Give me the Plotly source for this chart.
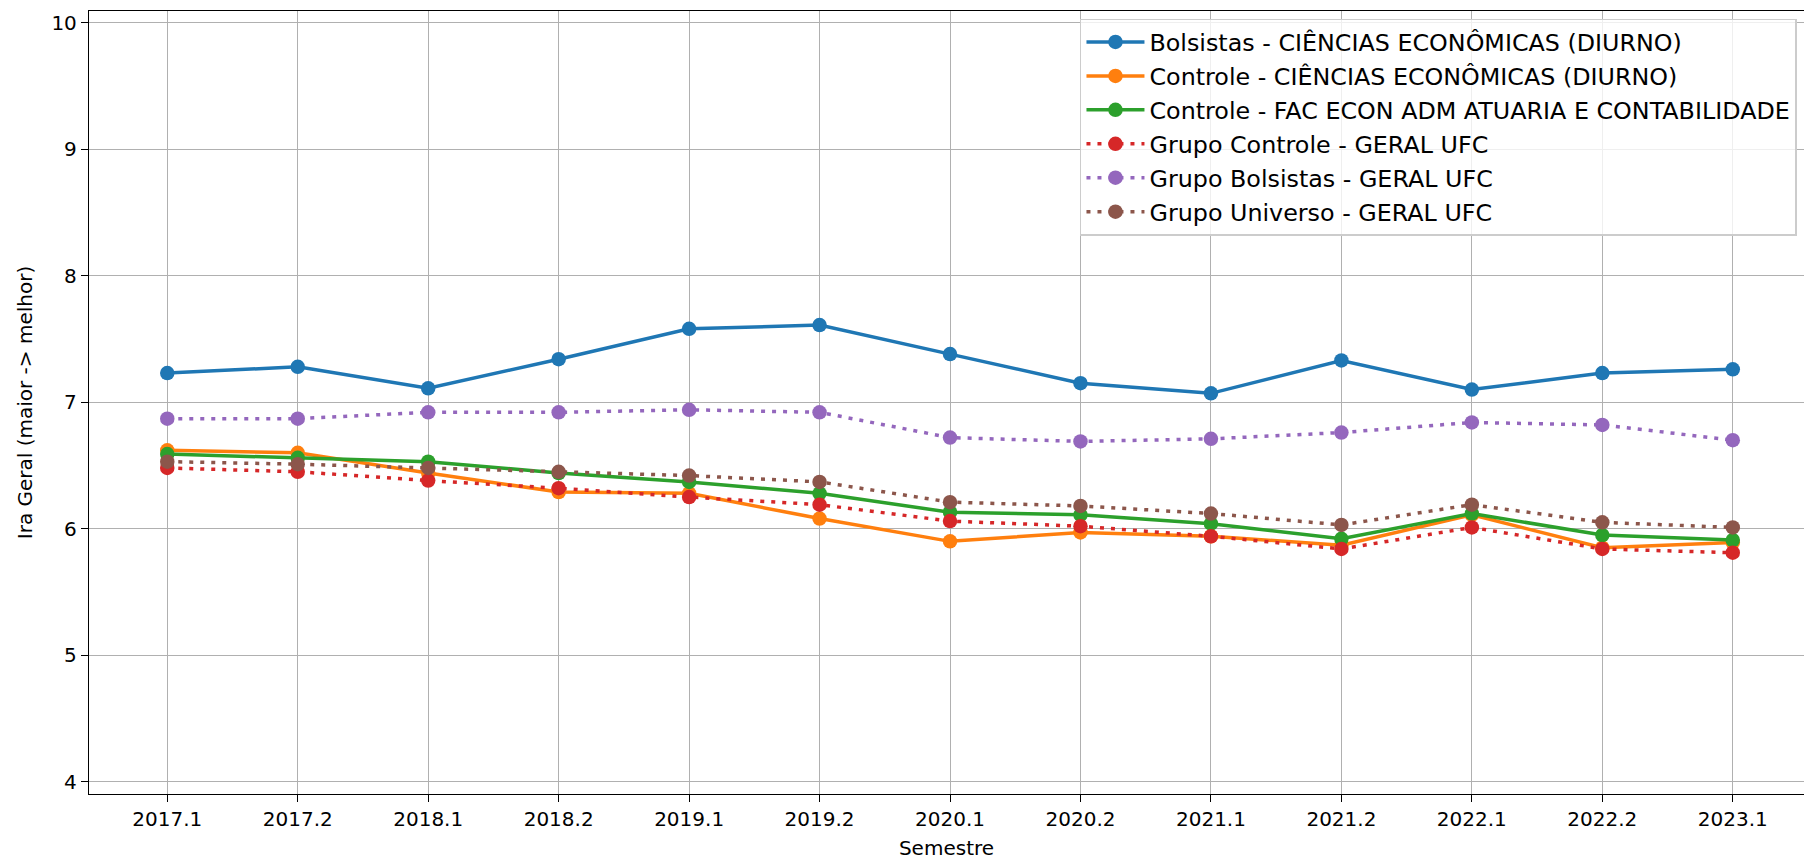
import plotly.graph_objects as go

semestres = ["2017.1", "2017.2", "2018.1", "2018.2", "2019.1", "2019.2", "2020.1",
             "2020.2", "2021.1", "2021.2", "2022.1", "2022.2", "2023.1"]

bolsistas_ce = [7.23, 7.28, 7.11, 7.34, 7.58, 7.61, 7.38, 7.15, 7.07, 7.33, 7.10, 7.23, 7.26]
controle_ce = [6.62, 6.60, 6.44, 6.29, 6.28, 6.08, 5.90, 5.97, 5.94, 5.87, 6.11, 5.85, 5.89]
controle_feaac = [6.59, 6.56, 6.53, 6.44, 6.37, 6.28, 6.13, 6.11, 6.04, 5.92, 6.12, 5.95, 5.91]
grupo_controle_ufc = [6.48, 6.45, 6.38, 6.32, 6.25, 6.19, 6.06, 6.02, 5.94, 5.84, 6.01, 5.84, 5.81]
grupo_bolsistas_ufc = [6.87, 6.87, 6.92, 6.92, 6.94, 6.92, 6.72, 6.69, 6.71, 6.76, 6.84, 6.82, 6.70]
grupo_universo_ufc = [6.53, 6.51, 6.48, 6.45, 6.42, 6.37, 6.21, 6.18, 6.12, 6.03, 6.19, 6.05, 6.01]

series = [
    ("Bolsistas - CIÊNCIAS ECONÔMICAS (DIURNO)", bolsistas_ce, "#1f77b4", "solid"),
    ("Controle - CIÊNCIAS ECONÔMICAS (DIURNO)", controle_ce, "#ff7f0e", "solid"),
    ("Controle - FAC ECON ADM ATUARIA E CONTABILIDADE", controle_feaac, "#2ca02c", "solid"),
    ("Grupo Controle - GERAL UFC", grupo_controle_ufc, "#d62728", "4px,7px"),
    ("Grupo Bolsistas - GERAL UFC", grupo_bolsistas_ufc, "#9467bd", "4px,7px"),
    ("Grupo Universo - GERAL UFC", grupo_universo_ufc, "#8c564b", "4px,7px"),
]

fig = go.Figure()
for i, (name, vals, color, dash) in enumerate(series):
    fig.add_trace(go.Scatter(
        x=semestres, y=vals, name=name, mode="lines+markers",
        line=dict(color=color, width=3.5, dash=dash),
        marker=dict(color=color, size=14.5),
    ))

font = dict(family="DejaVu Sans", size=20, color="#000000")
legend_font = dict(family="DejaVu Sans", size=23.8, color="#000000")

fig.update_layout(
    width=1804, height=860,
    margin=dict(l=89, r=0, t=11, b=66),
    paper_bgcolor="white", plot_bgcolor="white",
    font=font,
    showlegend=True,
    legend=dict(
        x=0.9959, y=0.9904, xanchor="right", yanchor="top",
        xref="paper", yref="paper",
        bgcolor="rgba(255,255,255,0.8)", bordercolor="#cccccc", borderwidth=1.5,
        font=legend_font, itemwidth=58,
    ),
    xaxis=dict(
        type="category", range=[-0.6, 12.546],
        showline=True, linecolor="black", linewidth=1.3, mirror=True,
        showgrid=True, gridcolor="#b0b0b0", gridwidth=1.3,
        ticks="outside", ticklen=7, tickcolor="black", tickwidth=1.3,
        title=dict(text="Semestre", font=font, standoff=10),
        automargin=False, zeroline=False,
    ),
    yaxis=dict(
        range=[3.903, 10.092], tickvals=[4, 5, 6, 7, 8, 9, 10],
        showline=True, linecolor="black", linewidth=1.3, mirror=False,
        showgrid=True, gridcolor="#b0b0b0", gridwidth=1.3,
        ticks="outside", ticklen=7, tickcolor="black", tickwidth=1.3,
        title=dict(text="Ira Geral (maior -> melhor)", font=font, standoff=13),
        automargin=False, zeroline=False,
    ),
)

fig.write_html("out.html", config={"displayModeBar": False},
               post_script="document.body.style.margin='0';document.body.style.overflow='hidden';")
